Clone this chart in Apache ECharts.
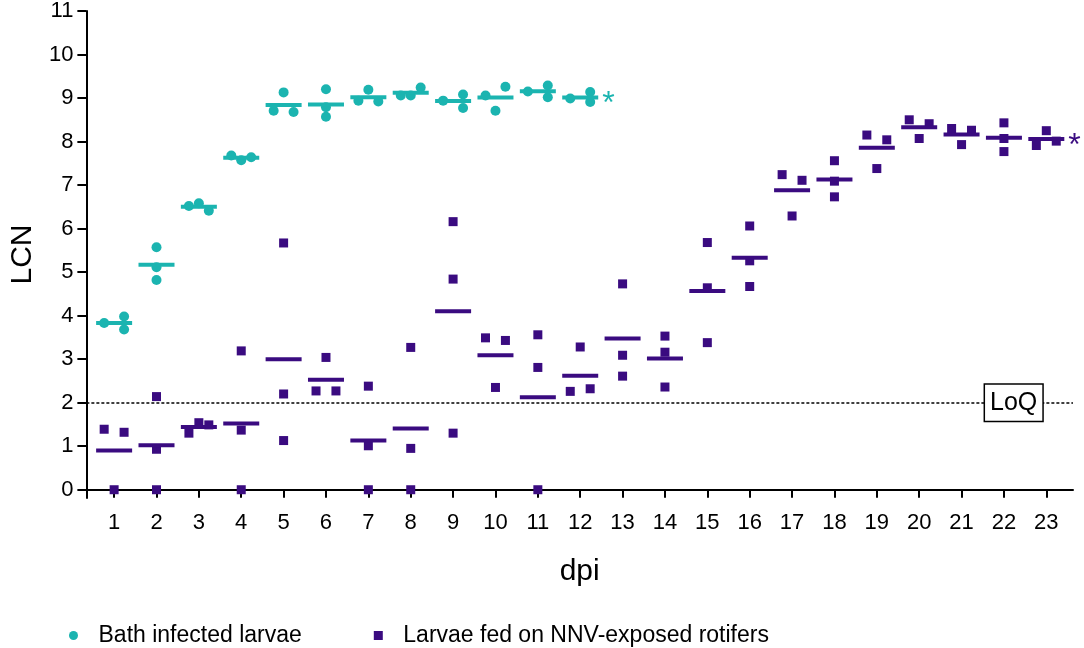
<!DOCTYPE html>
<html>
<head>
<meta charset="utf-8">
<script src="https://cdn.jsdelivr.net/npm/echarts@6/dist/echarts.min.js"></script>
<style>
  html, body { margin: 0; padding: 0; background: #fff; }
  #chart { width: 1084px; height: 648px; }
</style>
</head>
<body>
<div id="chart"></div>
<script>
// days post infection
var dpi = [1, 2, 3, 4, 5, 6, 7, 8, 9, 10, 11, 12, 13, 14, 15, 16, 17, 18, 19, 20, 21, 22, 23];

// replicate LCN values, one row per dpi
var bathLCN = [
    [3.83, 3.98, 3.68], [5.57, 5.11, 4.82], [6.52, 6.58, 6.41], [7.68, 7.57, 7.64],
    [9.13, 8.71, 8.68], [9.20, 8.79, 8.57], [8.94, 9.19, 8.92], [9.06, 9.06, 9.24],
    [8.94, 9.08, 8.77], [9.06, 9.26, 8.71], [9.15, 9.29, 9.02], [8.99, 9.14, 8.91]
];
var fedLCN = [
    [1.39, 1.32, 0], [2.14, 0.93, 0], [1.30, 1.54, 1.49], [3.19, 1.37, 0],
    [5.67, 2.20, 1.13], [3.04, 2.27, 2.27], [2.38, 1.01, 0], [3.27, 0.95, 0],
    [6.16, 4.84, 1.30], [3.49, 3.43, 2.35], [3.56, 2.81, 0], [2.26, 2.32, 3.28],
    [4.73, 3.09, 2.61], [3.53, 3.16, 2.36], [5.68, 4.64, 3.38], [6.06, 5.26, 4.67],
    [7.24, 7.11, 6.29], [7.56, 7.09, 6.73], [8.15, 8.04, 7.38], [8.50, 8.41, 8.07],
    [8.30, 8.26, 7.93], [8.43, 8.07, 7.77], [8.25, 7.91, 8.01]
];

// which lane (left / centre / right) each dot sits in, as in the scatter-dot plot
var bathLane = [
    [-1, 1, 1], [0, 0, 0], [-1, 0, 1], [-1, 0, 1], [0, -1, 1], [0, 0, 0],
    [-1, 0, 1], [-1, 0, 1], [-1, 1, 1], [-1, 1, 0], [-1, 1, 1], [-1, 1, 1]
];
var fedLane = [
    [-1, 1, 0], [0, 0, 0], [-1, 0, 1], [0, 0, 0], [0, 0, 0], [0, -1, 1],
    [0, 0, 0], [0, 0, 0], [0, 0, 0], [-1, 1, 0], [0, 0, 0], [-1, 1, 0],
    [0, 0, 0], [0, 0, 0], [0, 0, 0], [0, 0, 0], [-1, 1, 0], [0, 0, 0],
    [-1, 1, 0], [-1, 1, 0], [-1, 1, 0], [0, 0, 0], [0, -1, 1]
];

var yTicks = [0, 1, 2, 3, 4, 5, 6, 7, 8, 9, 10, 11];
var loq = 2;

var TEAL = '#1bb4b0';
var PURPLE = '#3a0b80';
var FONT = 'Liberation Sans, Arial, sans-serif';
var LANE = 0.235;
var SQUARE = 'path://M0,0L1,0L1,1L0,1Z';

function dots(rows, lanes) {
    var res = [];
    for (var i = 0; i < rows.length; i++) {
        for (var j = 0; j < rows[i].length; j++) {
            res.push([dpi[i] + lanes[i][j] * LANE, rows[i][j]]);
        }
    }
    return res;
}

function means(rows, color) {
    var res = [];
    for (var i = 0; i < rows.length; i++) {
        var s = 0;
        for (var j = 0; j < rows[i].length; j++) s += rows[i][j];
        var item = { value: [dpi[i], s / rows[i].length] };
        if (i === rows.length - 1) {
            // significance mark after the last mean
            item.label = {
                show: true, formatter: '*', position: 'right', distance: 4,
                offset: [0, 7], color: color, fontSize: 32, fontFamily: FONT
            };
        }
        res.push(item);
    }
    return res;
}

var myChart = echarts.init(document.getElementById('chart'));
var option = {
    animation: false,
    textStyle: { fontFamily: FONT },
    grid: { left: 77, right: 11, top: 10, bottom: 150 },
    legend: {
        left: 64, top: 619,
        itemWidth: 40, itemHeight: 9, itemGap: 72,
        textStyle: { fontSize: 23, color: '#000', fontFamily: FONT },
        data: [
            { name: 'Bath infected larvae', icon: 'circle', itemStyle: { color: TEAL } },
            { name: 'Larvae fed on NNV-exposed rotifers', icon: SQUARE, itemStyle: { color: PURPLE } }
        ]
    },
    xAxis: {
        type: 'value', min: 0.345, max: 23.63,
        name: 'dpi', nameLocation: 'middle', nameGap: 59,
        nameTextStyle: { fontSize: 30, color: '#000', fontFamily: FONT },
        axisLine: { show: true, lineStyle: { color: '#000', width: 2 } },
        axisTick: { show: true, customValues: dpi, length: 8, lineStyle: { color: '#000', width: 2 } },
        axisLabel: { customValues: dpi, fontSize: 22, color: '#000', margin: 14, fontFamily: FONT },
        splitLine: { show: false }
    },
    yAxis: {
        type: 'value', min: -0.19, max: 11,
        name: 'LCN', nameLocation: 'middle', nameGap: 46,
        nameTextStyle: { fontSize: 30, color: '#000', fontFamily: FONT },
        axisLine: { show: true, lineStyle: { color: '#000', width: 2 } },
        axisTick: { show: true, customValues: yTicks, length: 9, lineStyle: { color: '#000', width: 2 } },
        axisLabel: { customValues: yTicks, fontSize: 22, color: '#000', margin: 13, fontFamily: FONT },
        splitLine: { show: false }
    },
    series: [
        {
            name: 'Bath infected larvae', type: 'scatter', symbol: 'circle', symbolSize: 10,
            itemStyle: { color: TEAL, opacity: 1 }, clip: false,
            data: dots(bathLCN, bathLane),
            markLine: {
                silent: true, symbol: 'none', label: { show: false },
                lineStyle: { color: '#000', width: 1.5, type: [3, 2] },
                data: [{ yAxis: loq }]
            }
        },
        {
            name: 'Larvae fed on NNV-exposed rotifers', type: 'scatter', symbol: SQUARE, symbolSize: 9,
            itemStyle: { color: PURPLE, opacity: 1 }, clip: false,
            data: dots(fedLCN, fedLane)
        },
        {
            name: 'bath mean', type: 'scatter', symbol: 'rect', symbolSize: [36, 4],
            itemStyle: { color: TEAL, opacity: 1 }, clip: false, z: 3,
            data: means(bathLCN, TEAL)
        },
        {
            name: 'fed mean', type: 'scatter', symbol: 'rect', symbolSize: [36, 4],
            itemStyle: { color: PURPLE, opacity: 1 }, clip: false, z: 3,
            data: means(fedLCN, PURPLE)
        },
        {
            name: 'LoQ', type: 'scatter', symbol: 'circle', symbolSize: 1, z: 5, silent: true,
            itemStyle: { color: '#fff', opacity: 1 },
            data: [[22.23, loq]],
            label: {
                show: true, position: 'inside', formatter: 'LoQ', opacity: 1,
                fontSize: 25, color: '#000', fontFamily: FONT,
                backgroundColor: '#fff', borderColor: '#000', borderWidth: 1.5,
                padding: [6, 5, 5, 5]
            }
        }
    ]
};
myChart.setOption(option);
</script>
</body>
</html>
